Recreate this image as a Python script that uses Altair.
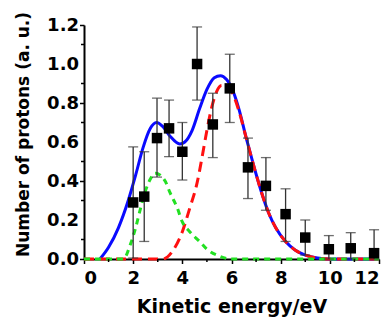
import altair as alt
import pandas as pd

# measured data points
pt_x = [2.0, 2.45, 2.97, 3.46, 4.0, 4.6, 5.24, 5.93, 6.67, 7.4, 8.2, 9.0, 9.96, 10.85, 11.8]
pt_y = [0.29, 0.32, 0.62, 0.67, 0.55, 1.0, 0.69, 0.875, 0.47, 0.375, 0.23, 0.11, 0.05, 0.055, 0.03]
pt_hi = [0.575, 0.55, 0.825, 0.815, 0.70, 1.19, 0.85, 1.05, 0.62, 0.52, 0.36, 0.20, 0.12, 0.135, 0.15]
pt_lo = [0.005, 0.09, 0.42, 0.525, 0.405, 0.815, 0.52, 0.70, 0.31, 0.25, 0.09, 0.02, 0.0, 0.0, 0.0]

# total fit (blue)
tot_x = [0.65, 1.0, 1.4, 1.8, 2.1, 2.4, 2.7, 2.95, 3.2, 3.5, 3.9, 4.1, 4.4, 4.7, 5.0, 5.3, 5.55,
         5.8, 6.0, 6.3, 6.6, 6.9, 7.2, 7.5, 7.8, 8.2, 8.6, 9.0, 9.5, 10.0, 12.0]
tot_y = [0.0, 0.06, 0.16, 0.30, 0.43, 0.57, 0.67, 0.70, 0.68, 0.63, 0.59, 0.60, 0.66, 0.77, 0.87, 0.93, 0.94,
         0.92, 0.88, 0.77, 0.62, 0.48, 0.35, 0.24, 0.16, 0.09, 0.045, 0.02, 0.005, 0.0, 0.0]

# high-energy component (red dashed)
red_x = [0.0, 3.2, 3.6, 4.0, 4.3, 4.6, 4.8, 5.0, 5.2, 5.4, 5.6, 5.8, 6.0, 6.3, 6.6, 6.9, 7.2,
         7.5, 7.8, 8.2, 8.6, 9.0, 9.5, 10.0, 12.0]
red_y = [0.0, 0.0, 0.04, 0.14, 0.26, 0.39, 0.52, 0.66, 0.78, 0.86, 0.89, 0.89, 0.86, 0.76, 0.62, 0.48, 0.35,
         0.24, 0.16, 0.09, 0.045, 0.02, 0.005, 0.0, 0.0]

# low-energy component (green dashed)
grn_x = [0.0, 1.6, 1.9, 2.1, 2.3, 2.5, 2.7, 2.9, 3.1, 3.3, 3.5, 3.8, 4.0, 4.3, 4.7, 5.0, 5.5, 6.0, 12.0]
grn_y = [0.0, 0.0, 0.08, 0.16, 0.26, 0.35, 0.41, 0.44, 0.43, 0.40, 0.34, 0.26, 0.19, 0.14, 0.09, 0.05, 0.015, 0.0, 0.0]

x_major = [0, 2, 4, 6, 8, 10, 12]
x_minor = [1, 3, 5, 7, 9, 11]
y_major = [0.0, 0.2, 0.4, 0.6, 0.8, 1.0, 1.2]
y_labels = ["0.0", "0.2", "0.4", "0.6", "0.8", "1.0", "1.2"]
y_minor = [0.1, 0.3, 0.5, 0.7, 0.9, 1.1]

pts = pd.DataFrame({"x": pt_x, "y": pt_y, "hi": pt_hi, "lo": pt_lo})
tot = pd.DataFrame({"x": tot_x, "y": tot_y})
red = pd.DataFrame({"x": red_x, "y": red_y})
grn = pd.DataFrame({"x": grn_x, "y": grn_y})
xmin_df = pd.DataFrame({"x": x_minor})
ymin_df = pd.DataFrame({"y": y_minor})
ylab_df = pd.DataFrame({"y": y_major, "t": y_labels})

FONT = "DejaVu Sans"
W, H = 295, 234

xscale = alt.Scale(domain=[0, 12], nice=False, zero=False)
yscale = alt.Scale(domain=[0, 1.2], nice=False)

xaxis = alt.Axis(
    title="Kinetic energy/eV", values=x_major, grid=False, labelOverlap=False,
    tickSize=4.5, labelPadding=5.5, titlePadding=10, titleFontSize=19,
)
yaxis = alt.Axis(
    title="Number of protons (a. u.)", values=y_major, grid=False, labels=False,
    tickSize=4.5, titlePadding=46, titleFontSize=17, titleY=109,
)

base_x = alt.X("x:Q", scale=xscale, axis=xaxis)
base_y = alt.Y("y:Q", scale=yscale, axis=yaxis)

blue_line = alt.Chart(tot).mark_line(color="#0a0aff", strokeWidth=3, interpolate="monotone").encode(
    x=base_x, y=base_y)
red_line = alt.Chart(red).mark_line(color="#ff1010", strokeWidth=3, strokeDash=[10, 6], interpolate="monotone").encode(
    x="x:Q", y="y:Q")
grn_line = alt.Chart(grn).mark_line(color="#22e022", strokeWidth=3, strokeDash=[6, 5], interpolate="monotone").encode(
    x="x:Q", y="y:Q")

# minor ticks
xminor = alt.Chart(xmin_df).mark_rule(color="black", strokeWidth=1.5).encode(
    x="x:Q", y=alt.value(H), y2=alt.value(H + 3))
yminor = alt.Chart(ymin_df).mark_rule(color="black", strokeWidth=1.5).encode(
    y="y:Q", x=alt.value(0), x2=alt.value(-3))

# y tick labels
ylabels = alt.Chart(ylab_df).mark_text(
    align="right", baseline="middle", font=FONT, fontSize=18, fontWeight="bold", color="black", dy=1
).encode(y="y:Q", x=alt.value(-5), text="t:N")

err = alt.Chart(pts).mark_rule(color="#333333", strokeWidth=1.3).encode(
    x="x:Q", y="lo:Q", y2="hi:Q")
cap_hi = alt.Chart(pts).mark_tick(color="#333333", orient="horizontal", size=10, thickness=1.3).encode(
    x="x:Q", y="hi:Q")
cap_lo = alt.Chart(pts).mark_tick(color="#333333", orient="horizontal", size=10, thickness=1.3).encode(
    x="x:Q", y="lo:Q")
squares = alt.Chart(pts).mark_square(color="black", size=110, opacity=1).encode(
    x="x:Q", y="y:Q")

chart = alt.layer(blue_line, red_line, grn_line, xminor, yminor, ylabels, err, cap_hi, cap_lo, squares).properties(
    width=W, height=H,
    background="white",
    autosize=alt.AutoSizeParams(type="none"),
    padding={"left": 84, "top": 25, "right": 13, "bottom": 62},
).configure_view(stroke=None).configure_axis(
    labelFont=FONT, labelFontSize=18, labelFontWeight="bold", labelColor="black",
    titleFont=FONT, titleFontWeight="bold", titleColor="black",
    domainColor="black", domainWidth=2, tickColor="black", tickWidth=1.5,
)

chart.save("out.html", embed_options={"renderer": "svg", "actions": False})
